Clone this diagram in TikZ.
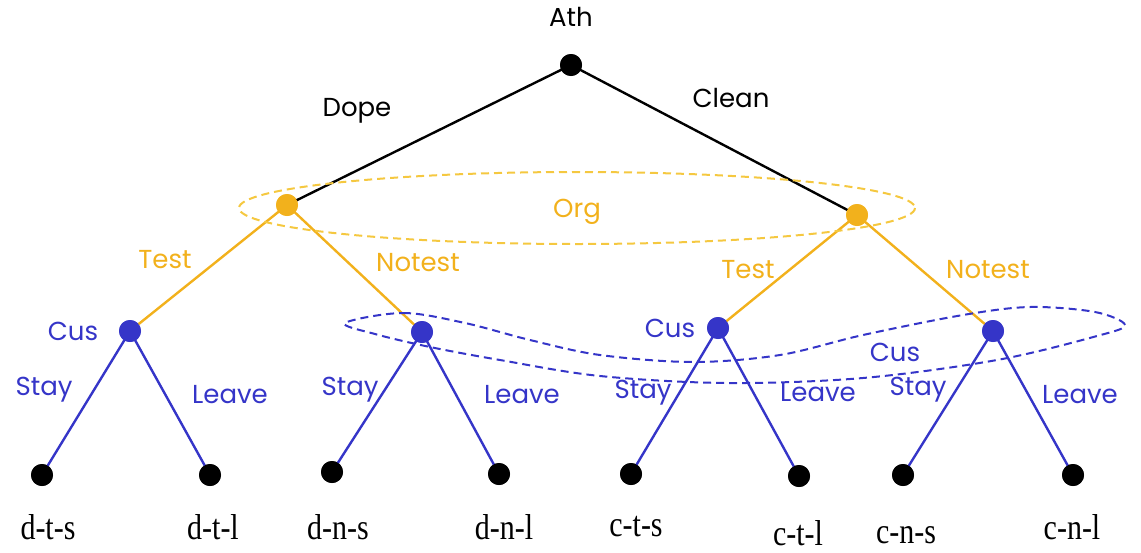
\documentclass[tikz,border=0pt]{standalone}
\usepackage{fontspec}
\usepackage{graphicx}
\setmainfont{Liberation Serif}
\setsansfont{Poppins}
\definecolor{orgc}{HTML}{F2B11C}
\definecolor{orgd}{HTML}{F5C840}
\definecolor{cusc}{HTML}{3535C8}
\tikzset{
  dotnode/.style={circle,fill=#1,inner sep=0pt,minimum size=11pt},
  lbl/.style={font=\sffamily\fontsize{13}{15}\selectfont,text=#1,inner sep=0pt},
  leaflbl/.style={font=\rmfamily\fontsize{15}{17}\selectfont,inner sep=0pt},
  edge/.style={draw=#1,line width=1.2pt},
  loop/.style={draw=#1,line width=1pt,dash pattern=on 4pt off 2.5pt}
}
\begin{document}
\begin{tikzpicture}[x=0.5pt,y=-0.5pt]
\useasboundingbox (0,0) rectangle (1141,552);
% nodes
\node[dotnode=black] (r) at (571,65) {};
\node[dotnode=orgc] (oL) at (287,205) {};
\node[dotnode=orgc] (oR) at (857,215) {};
\node[dotnode=cusc] (c1) at (130,331) {};
\node[dotnode=cusc] (c2) at (422,332) {};
\node[dotnode=cusc] (c3) at (718,328) {};
\node[dotnode=cusc] (c4) at (993,331) {};
\node[dotnode=black] (l1) at (42,475) {};
\node[dotnode=black] (l2) at (210,475) {};
\node[dotnode=black] (l3) at (332,472) {};
\node[dotnode=black] (l4) at (499,474) {};
\node[dotnode=black] (l5) at (631,474) {};
\node[dotnode=black] (l6) at (799,476) {};
\node[dotnode=black] (l7) at (903,475) {};
\node[dotnode=black] (l8) at (1073,475) {};
% edges
\draw[edge=black] (r.center) -- (oL.center);
\draw[edge=black] (r.center) -- (oR.center);
\draw[edge=orgc] (oL.center) -- (c1.center);
\draw[edge=orgc] (oL.center) -- (c2.center);
\draw[edge=orgc] (oR.center) -- (c3.center);
\draw[edge=orgc] (oR.center) -- (c4.center);
\draw[edge=cusc] (c1.center) -- (l1.center);
\draw[edge=cusc] (c1.center) -- (l2.center);
\draw[edge=cusc] (c2.center) -- (l3.center);
\draw[edge=cusc] (c2.center) -- (l4.center);
\draw[edge=cusc] (c3.center) -- (l5.center);
\draw[edge=cusc] (c3.center) -- (l6.center);
\draw[edge=cusc] (c4.center) -- (l7.center);
\draw[edge=cusc] (c4.center) -- (l8.center);
% information sets
\draw[loop=orgd] (577,208) ellipse [x radius=338, y radius=36];
\draw[loop=cusc] plot[smooth cycle, tension=0.55] coordinates {
 (345,323) (403,313) (465,323) (530,340) (600,355) (693,362) (780,355)
 (863,335) (963,315) (1030,307) (1095,312) (1125,325) (1097,336)
 (997,360) (863,378) (727,383) (600,376) (500,360) (430,347) (375,334)};
% redraw dots on top
\foreach \n/\c in {r/black,oL/orgc,oR/orgc,c1/cusc,c2/cusc,c3/cusc,c4/cusc,
  l1/black,l2/black,l3/black,l4/black,l5/black,l6/black,l7/black,l8/black}
  \fill[\c] (\n) circle (5.5pt);
% labels
\node[lbl=black] (tAth) at (571,17) {Ath};
\node[lbl=black] (tDope) at (357,111) {Dope};
\node[lbl=black] (tClean) at (731,98) {Clean};
\node[lbl=orgc] (tOrg) at (577,212) {Org};
\node[lbl=orgc] (tT1) at (165,260) {Test};
\node[lbl=orgc] (tN1) at (418,263) {Notest};
\node[lbl=orgc] (tT2) at (748,270) {Test};
\node[lbl=orgc] (tN2) at (988,270) {Notest};
\node[lbl=cusc] (tC1) at (73,331) {Cus};
\node[lbl=cusc] (tC3) at (670,328) {Cus};
\node[lbl=cusc] (tC) at (895,352) {Cus};
\node[lbl=cusc] (tS1) at (44,390) {Stay};
\node[lbl=cusc] (tS2) at (350,390) {Stay};
\node[lbl=cusc] (tS3) at (643,393) {Stay};
\node[lbl=cusc] (tS4) at (918,390) {Stay};
\node[lbl=cusc] (tL1) at (230,395) {Leave};
\node[lbl=cusc] (tL2) at (522,395) {Leave};
\node[lbl=cusc] (tL3) at (818,393) {Leave};
\node[lbl=cusc] (tL4) at (1080,395) {Leave};
% leaf labels
\node[leaflbl] (x1) at (48,527) {\scalebox{1}[1.2]{d-t-s}};
\node[leaflbl] (x2) at (213,527) {\scalebox{1}[1.2]{d-t-l}};
\node[leaflbl] (x3) at (338,527) {\scalebox{1}[1.2]{d-n-s}};
\node[leaflbl] (x4) at (504,527) {\scalebox{1}[1.2]{d-n-l}};
\node[leaflbl] (x5) at (636,527) {\scalebox{1}[1.2]{c-t-s}};
\node[leaflbl] (x6) at (798,533) {\scalebox{1}[1.2]{c-t-l}};
\node[leaflbl] (x7) at (906,535) {\scalebox{1}[1.2]{c-n-s}};
\node[leaflbl] (x8) at (1072,527) {\scalebox{1}[1.2]{c-n-l}};
\end{tikzpicture}
\end{document}
